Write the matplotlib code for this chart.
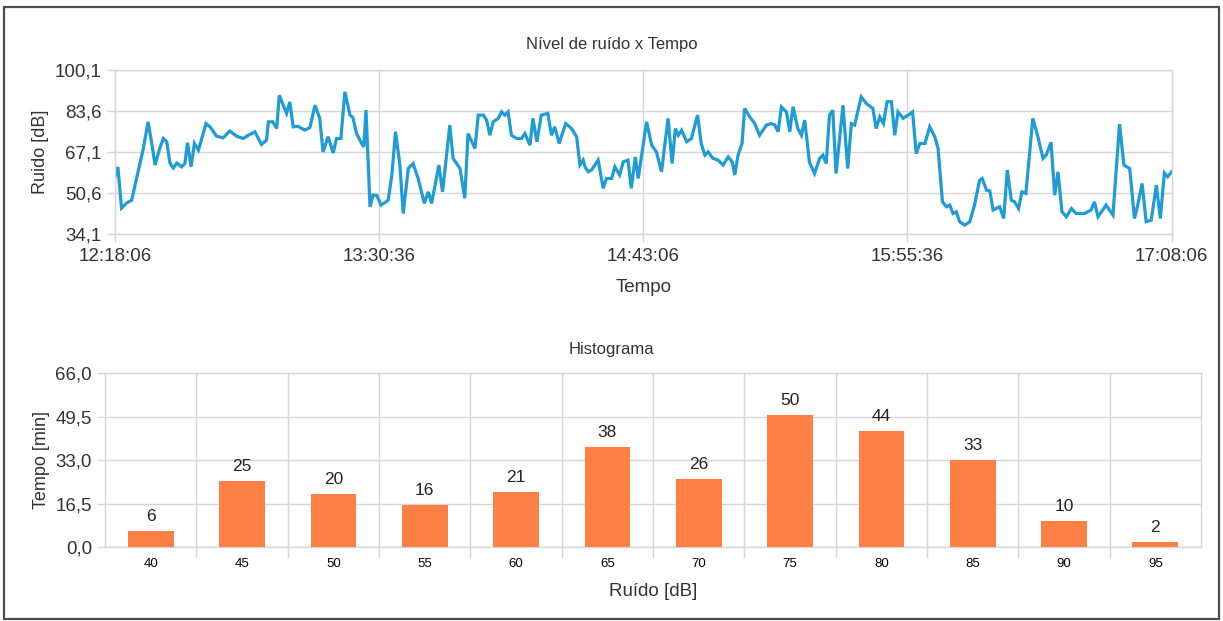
import matplotlib
matplotlib.use("Agg")
import matplotlib.pyplot as plt
from matplotlib.patches import Rectangle

plt.rcParams['font.family'] = ['Liberation Sans', 'DejaVu Sans']

# --- dados: nivel de ruido x tempo (minutos desde 12:18:06) ---
minutos = [0.0, 0.8, 1.8, 3.2, 4.6, 6.0, 7.7, 9.1, 10.4, 11.0, 12.3, 13.3, 14.2, 15.1, 16.0,
           17.0, 18.3, 19.2, 19.9, 20.9, 21.8, 22.9, 25.0, 26.1, 27.9, 29.7, 31.5, 33.4,
           35.2, 36.6, 38.4, 40.2, 41.6, 42.1, 43.3, 44.4, 45.1, 47.1, 48.0, 48.9, 50.2,
           52.1, 53.5, 54.9, 56.2, 57.1, 58.5, 59.9, 60.8, 62.0, 63.1, 64.5, 65.3, 66.3,
           67.7, 68.3, 68.9, 70.0, 70.8, 71.9, 73.0, 74.1, 75.0, 76.0, 77.0, 78.2, 79.1,
           80.5, 81.8, 83.2, 84.9, 86.0, 86.9, 88.9, 89.9, 91.9, 92.8, 94.7, 96.0, 96.9,
           98.8, 99.7, 101.1, 102.0, 102.9, 103.8, 105.2, 106.1, 107.0, 107.9, 108.8,
           110.2, 111.6, 112.5, 113.9, 114.7, 115.8, 117.0, 118.8, 119.8, 120.7, 121.9,
           123.7, 125.3, 126.7, 127.6, 128.5, 129.0, 129.9, 130.8, 132.6, 134.0, 134.9,
           136.3, 137.2, 138.5, 139.5, 140.8, 141.7, 142.8, 143.6, 145.9, 147.3, 148.6,
           150.0, 151.8, 152.9, 153.8, 154.6, 155.5, 156.9, 158.2, 159.9, 160.9, 161.9,
           162.8, 164.1, 165.5, 166.9, 168.3, 169.4, 170.1, 171.0, 172.1, 172.8, 174.2,
           175.6, 176.9, 178.8, 180.1, 181.1, 182.0, 182.9, 184.3, 185.2, 186.1, 187.4,
           188.4, 189.3, 190.6, 192.0, 193.4, 194.3, 195.2, 196.1, 197.0, 197.9, 199.8,
           201.1, 202.1, 203.0, 204.8, 206.2, 208.0, 208.9, 209.9, 210.9, 211.9, 213.1,
           214.0, 214.9, 216.3, 217.7, 218.9, 219.9, 220.9, 222.3, 223.6, 225.0, 225.9,
           227.1, 228.2, 229.1, 230.0, 230.9, 231.8, 233.2, 234.6, 235.9, 237.3, 238.0,
           239.2, 240.1, 241.0, 242.8, 243.9, 244.9, 246.0, 246.9, 248.0, 248.9, 250.0,
           251.9, 253.3, 254.7, 255.6, 256.9, 257.9, 258.8, 259.9, 261.1, 262.5, 263.8,
           266.1, 267.9, 268.8, 269.8, 271.1, 272.0, 273.9, 275.7, 276.9, 278.5, 279.8,
           280.7, 281.9, 283.0, 284.4, 285.8, 286.9, 288.0, 288.9, 290.0]
ruido = [57.2, 61.1, 44.6, 46.6, 47.8, 57.0, 67.9, 79.3, 67.9, 61.9, 68.7, 72.6, 71.3, 62.7, 60.7,
         62.7, 61.2, 62.5, 70.9, 61.2, 70.6, 67.9, 78.6, 77.3, 73.5, 72.9, 75.6, 73.5,
         72.6, 73.9, 75.3, 70.2, 71.9, 79.3, 79.3, 76.6, 90.0, 82.7, 87.3, 77.3, 77.5,
         76.0, 77.0, 86.0, 80.7, 67.2, 73.3, 66.8, 72.6, 72.6, 91.4, 82.0, 81.0, 74.6,
         70.6, 69.2, 84.0, 45.1, 49.8, 49.6, 45.8, 46.8, 47.8, 58.0, 75.3, 61.9, 42.4,
         60.5, 62.5, 56.5, 46.5, 51.1, 46.5, 61.9, 51.1, 78.0, 64.6, 60.5, 48.5, 74.6,
         68.6, 82.0, 82.0, 80.0, 73.9, 79.3, 80.7, 83.3, 82.0, 83.3, 73.9,
         72.6, 72.6, 74.6, 69.9, 80.7, 71.3, 82.0, 82.7, 73.9, 77.3, 70.6,
         78.6, 76.6, 73.3, 61.9, 63.9, 61.2, 59.2, 59.9, 63.9, 52.5, 56.5,
         56.5, 61.2, 57.9, 63.2, 63.9, 52.5, 65.2, 56.5, 79.3, 69.9, 67.2,
         59.2, 80.7, 62.5, 76.6, 73.9, 75.9, 71.3, 72.6, 82.0, 70.6, 65.9,
         67.2, 64.6, 63.9, 61.9, 65.2, 63.2, 57.9, 65.9, 70.6, 84.7, 81.3,
         78.6, 73.9, 78.0, 78.6, 78.0, 75.3, 85.3, 83.3, 75.3, 85.4, 76.6,
         73.9, 80.0, 63.0, 58.5, 64.6, 65.9, 62.5, 82.0, 84.0, 58.5, 86.0,
         60.5, 78.6, 78.0, 89.4, 86.7, 84.7, 76.6, 81.3, 78.6, 87.4, 87.4,
         73.9, 83.3, 80.7, 82.0, 83.3, 66.5, 70.6, 70.6, 77.3, 73.3, 68.6,
         47.1, 45.1, 45.8, 42.4, 43.1, 39.1, 37.7, 39.1, 45.8, 55.8, 56.5,
         51.8, 51.5, 43.8, 45.1, 40.4, 59.9, 47.8, 47.1, 44.4, 51.1, 50.5,
         80.7, 73.3, 64.6, 66.0, 71.1, 49.8, 59.2, 43.1, 41.1, 44.4, 42.4,
         42.4, 43.8, 47.1, 41.1, 43.8, 45.8, 41.8, 78.4, 61.9, 60.5, 40.4,
         45.8, 54.5, 39.1, 39.7, 53.8, 40.4, 58.7, 57.2, 59.2]

tempo_ticks = [0, 72.5, 145, 217.5, 290]
tempo_labels = ["12:18:06", "13:30:36", "14:43:06", "15:55:36", "17:08:06"]
ruido_ticks = [34.1, 50.6, 67.1, 83.6, 100.1]

# --- dados: histograma ---
faixas = ["40", "45", "50", "55", "60", "65", "70", "75", "80", "85", "90", "95"]
minutos_faixa = [6, 25, 20, 16, 21, 38, 26, 50, 44, 33, 10, 2]
hist_ticks = [0, 16.5, 33, 49.5, 66]

azul = '#1f9bd6'
laranja = '#ff7f45'
grade = '#d6d6d6'
texto = '#333333'


def virgula(v):
    return ("%.1f" % v).replace('.', ',')


def estilo(ax):
    for s in ax.spines.values():
        s.set_color(grade)
        s.set_linewidth(1)
    ax.tick_params(colors=grade, labelcolor=texto, length=6, width=1)
    ax.set_axisbelow(True)


fig = plt.figure(figsize=(12.23, 6.21), dpi=100)
fig.patch.set_facecolor('white')

# moldura
fig.patches.append(Rectangle((0.003, 0.004), 0.994, 0.984, transform=fig.transFigure,
                             fill=False, edgecolor='#4d4d4d', linewidth=1.6))

# grafico de linha
ax1 = fig.add_axes([0.094, 0.623, 0.864, 0.264])
ax1.plot(minutos, ruido, color=azul, linewidth=2.3, solid_joinstyle='miter')
ax1.set_xlim(0, 290)
ax1.set_ylim(34.1, 100.1)
ax1.set_xticks(tempo_ticks)
ax1.set_xticklabels(tempo_labels, fontsize=13.5)
ax1.set_yticks(ruido_ticks)
ax1.set_yticklabels([virgula(v) for v in ruido_ticks], fontsize=13.5)
ax1.grid(True, color=grade, linewidth=1)
estilo(ax1)
ax1.tick_params(axis='x', pad=4)
ax1.set_xlabel("Tempo", fontsize=13.5, color=texto, labelpad=10)
ax1.set_ylabel("Ruido [dB]", fontsize=13, color=texto, labelpad=4)
fig.text(0.5, 0.928, "Nível de ruído x Tempo", fontsize=12, color=texto,
         ha='center', va='center')

# histograma
ax2 = fig.add_axes([0.086, 0.119, 0.896, 0.280])
pos = list(range(len(faixas)))
barras = ax2.bar(pos, minutos_faixa, width=0.5, color=laranja, zorder=3)
ax2.bar_label(barras, labels=[str(v) for v in minutos_faixa], padding=5,
              fontsize=12.5, color='#222222')
ax2.set_xlim(-0.5, len(faixas) - 0.5)
ax2.set_ylim(0, 66)
ax2.set_yticks(hist_ticks)
ax2.set_yticklabels([virgula(v) for v in hist_ticks], fontsize=13.5)
ax2.set_xticks([p + 0.5 for p in pos[:-1]], minor=False)
ax2.set_xticklabels([])
ax2.set_xticks(pos, minor=True)
ax2.set_xticklabels(faixas, minor=True, fontsize=9.5)
ax2.tick_params(axis='x', which='minor', length=0, pad=8)
ax2.grid(True, which='major', color=grade, linewidth=1)
estilo(ax2)
ax2.tick_params(axis='x', which='major', length=8)
ax2.set_xlabel("Ruído [dB]", fontsize=13.5, color=texto, labelpad=9)
ax2.set_ylabel("Tempo [min]", fontsize=13, color=texto, labelpad=4)
fig.text(0.5, 0.437, "Histograma", fontsize=12, color=texto,
         ha='center', va='center')

fig.savefig("out.png", dpi=100)
